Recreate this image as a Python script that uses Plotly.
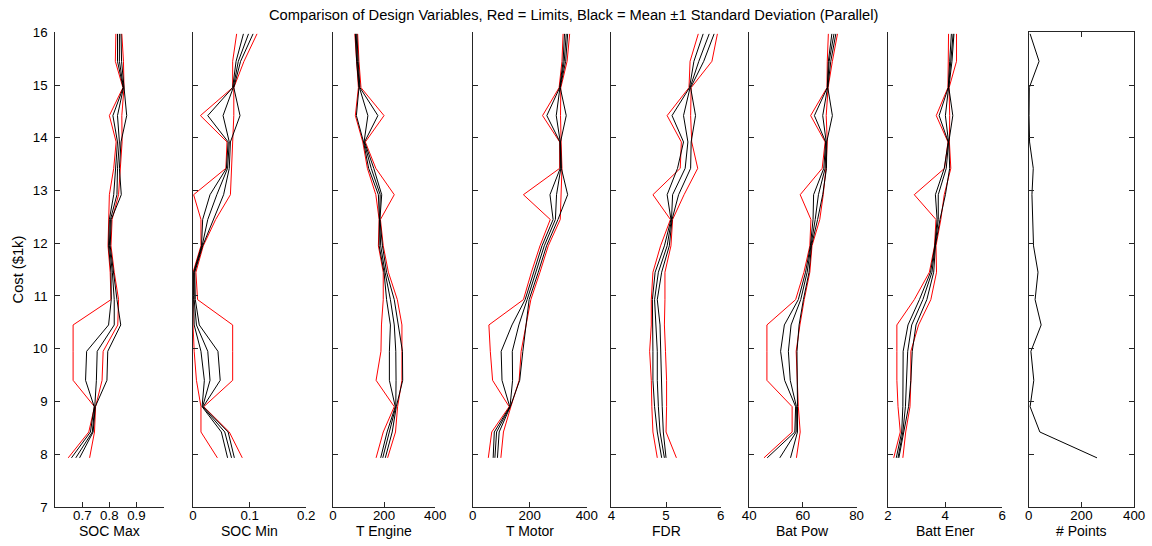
import plotly.graph_objects as go

W, H = 1152, 546

# ---------------- data ----------------
cost = [7.93, 8.42, 8.90, 9.40, 9.95, 10.45, 10.93, 11.45, 11.95, 12.45,
        12.92, 13.42, 13.92, 14.42, 14.95, 15.45, 15.97]

soc_max_lim_lo = [0.648, 0.724, 0.745, 0.666, 0.666, 0.666, 0.806, 0.803, 0.795, 0.797, 0.800, 0.816, 0.825, 0.800, 0.850, 0.822, 0.824]
soc_max_sd_lo  = [0.660, 0.730, 0.744, 0.712, 0.716, 0.797, 0.807, 0.806, 0.797, 0.800, 0.816, 0.822, 0.830, 0.813, 0.851, 0.830, 0.830]
soc_max_mean   = [0.676, 0.737, 0.746, 0.752, 0.755, 0.818, 0.818, 0.811, 0.800, 0.804, 0.828, 0.830, 0.837, 0.830, 0.852, 0.837, 0.837]
soc_max_sd_hi  = [0.690, 0.740, 0.748, 0.791, 0.794, 0.842, 0.828, 0.816, 0.803, 0.807, 0.844, 0.837, 0.843, 0.864, 0.853, 0.845, 0.843]
soc_max_lim_hi = [0.727, 0.745, 0.749, 0.773, 0.777, 0.831, 0.834, 0.818, 0.806, 0.810, 0.834, 0.840, 0.847, 0.846, 0.854, 0.852, 0.846]

soc_min_lim_lo = [0.043, 0.014, 0.014, 0.006, 0.002, 0.000, 0.000, 0.000, 0.014, 0.014, 0.001, 0.058, 0.060, 0.013, 0.070, 0.070, 0.077]
soc_min_sd_lo  = [0.061, 0.050, 0.016, 0.020, 0.014, 0.002, 0.001, 0.001, 0.015, 0.017, 0.030, 0.059, 0.062, 0.026, 0.070, 0.076, 0.089]
soc_min_mean   = [0.068, 0.056, 0.017, 0.030, 0.026, 0.006, 0.002, 0.002, 0.016, 0.026, 0.042, 0.061, 0.064, 0.053, 0.071, 0.080, 0.098]
soc_min_sd_hi  = [0.073, 0.062, 0.018, 0.048, 0.044, 0.011, 0.004, 0.003, 0.017, 0.036, 0.054, 0.064, 0.066, 0.083, 0.072, 0.084, 0.106]
soc_min_lim_hi = [0.087, 0.064, 0.019, 0.070, 0.070, 0.070, 0.008, 0.005, 0.018, 0.040, 0.066, 0.068, 0.069, 0.072, 0.072, 0.090, 0.113]

t_eng_lim_lo = [169, 197, 240, 169, 188, 190, 197, 197, 178, 181, 168, 135, 117, 88, 100, 92, 86]
t_eng_sd_lo  = [187, 212, 244, 221, 221, 225, 210, 200, 181, 182, 178, 140, 120, 92, 102, 93, 88]
t_eng_mean   = [195, 222, 246, 247, 246, 240, 225, 204, 187, 183, 185, 150, 122, 137, 104, 96, 91]
t_eng_sd_hi  = [205, 232, 248, 273, 272, 255, 240, 210, 194, 184, 191, 160, 124, 176, 106, 99, 94]
t_eng_lim_hi = [214, 245, 253, 270, 270, 270, 252, 217, 197, 186, 240, 168, 127, 200, 110, 102, 97]

t_mot_lim_lo = [55, 67, 128, 70, 62, 57, 178, 206, 236, 272, 178, 305, 305, 245, 303, 313, 317]
t_mot_sd_lo  = [72, 76, 130, 103, 100, 138, 184, 214, 243, 282, 271, 307, 306, 260, 305, 317, 322]
t_mot_mean   = [78, 84, 131, 140, 139, 162, 191, 222, 251, 290, 294, 309, 307, 293, 306, 321, 328]
t_mot_sd_hi  = [87, 93, 132, 165, 176, 188, 198, 230, 259, 299, 333, 311, 308, 328, 307, 326, 333]
t_mot_lim_hi = [99, 108, 134, 163, 170, 187, 204, 236, 265, 307, 310, 313, 310, 308, 309, 331, 340]

fdr_lim_lo = [4.84, 4.76, 4.74, 4.73, 4.70, 4.73, 4.73, 4.76, 4.90, 5.08, 4.76, 5.26, 5.28, 5.02, 5.42, 5.44, 5.59]
fdr_sd_lo  = [4.92, 4.84, 4.79, 4.76, 4.76, 4.76, 4.75, 4.80, 4.97, 5.09, 5.02, 5.21, 5.32, 5.11, 5.43, 5.51, 5.68]
fdr_mean   = [4.97, 4.89, 4.86, 4.84, 4.84, 4.82, 4.79, 4.86, 5.02, 5.10, 5.12, 5.35, 5.40, 5.32, 5.44, 5.60, 5.79]
fdr_sd_hi  = [5.00, 4.95, 4.93, 4.92, 4.91, 4.89, 4.84, 4.92, 5.06, 5.11, 5.23, 5.45, 5.46, 5.54, 5.45, 5.69, 5.88]
fdr_lim_hi = [5.19, 5.00, 5.01, 5.01, 4.99, 4.97, 4.98, 4.98, 5.09, 5.12, 5.33, 5.58, 5.47, 5.45, 5.46, 5.84, 5.94]

bat_pow_lim_lo = [45.5, 56.0, 56.0, 46.6, 46.6, 46.6, 57.3, 60.4, 62.6, 63.0, 59.0, 67.2, 68.3, 62.9, 69.0, 69.1, 69.5]
bat_pow_sd_lo  = [46.7, 57.0, 57.3, 53.2, 51.7, 53.1, 58.3, 61.0, 62.8, 63.8, 64.0, 67.8, 68.5, 64.3, 69.1, 69.5, 70.8]
bat_pow_mean   = [51.4, 57.5, 57.6, 55.3, 54.6, 55.6, 59.2, 61.6, 63.0, 64.6, 65.8, 68.3, 68.7, 67.4, 69.2, 69.8, 71.6]
bat_pow_sd_hi  = [55.4, 58.0, 58.0, 57.9, 57.8, 58.6, 60.2, 62.3, 63.2, 65.5, 67.4, 68.8, 68.9, 71.0, 69.3, 70.4, 72.3]
bat_pow_lim_hi = [57.6, 59.0, 58.3, 57.8, 57.5, 58.9, 60.5, 62.6, 63.4, 66.3, 67.6, 68.6, 69.1, 68.7, 69.4, 71.0, 72.9]

batt_ener_lim_lo = [2.20, 2.43, 2.35, 2.31, 2.31, 2.31, 2.92, 3.45, 3.63, 3.68, 2.92, 3.98, 4.10, 3.69, 4.10, 4.10, 4.12]
batt_ener_sd_lo  = [2.29, 2.48, 2.52, 2.53, 2.53, 2.70, 3.10, 3.49, 3.64, 3.72, 3.66, 3.97, 4.11, 3.79, 4.11, 4.16, 4.22]
batt_ener_mean   = [2.35, 2.52, 2.61, 2.66, 2.69, 2.83, 3.22, 3.54, 3.65, 3.76, 3.76, 4.04, 4.12, 4.01, 4.12, 4.19, 4.28]
batt_ener_sd_hi  = [2.38, 2.56, 2.72, 2.80, 2.85, 2.98, 3.36, 3.60, 3.66, 3.82, 4.01, 4.16, 4.13, 4.27, 4.13, 4.24, 4.31]
batt_ener_lim_hi = [2.52, 2.62, 2.77, 2.80, 2.80, 3.07, 3.50, 3.70, 3.68, 3.85, 3.97, 4.20, 4.15, 4.16, 4.14, 4.40, 4.40]

n_points = [259, 42, 5, 19, 8, 47, 24, 35, 18, 14, 12, 17, 3, 1, 2, 39, 5]

var_names = ["SOC Max", "SOC Min", "T Engine", "T Motor", "FDR", "Bat Pow", "Batt Ener"]
x_ranges = [[0.6, 1.0], [0, 0.2], [0, 400], [0, 400], [4, 6], [40, 80], [2, 6], [0, 400]]
x_tickvals = [[0.7, 0.8, 0.9], [0, 0.1, 0.2], [0, 200, 400], [0, 200, 400],
              [4, 5, 6], [40, 60, 80], [2, 4, 6], [0, 200, 400]]
x_ticktext = [["0.7", "0.8", "0.9"], ["0", "0.1", "0.2"], ["0", "200", "400"], ["0", "200", "400"],
              ["4", "5", "6"], ["40", "60", "80"], ["2", "4", "6"], ["0", "200", "400"]]
y_ticks = [7, 8, 9, 10, 11, 12, 13, 14, 15, 16]

limits_lo = [soc_max_lim_lo, soc_min_lim_lo, t_eng_lim_lo, t_mot_lim_lo, fdr_lim_lo, bat_pow_lim_lo, batt_ener_lim_lo]
limits_hi = [soc_max_lim_hi, soc_min_lim_hi, t_eng_lim_hi, t_mot_lim_hi, fdr_lim_hi, bat_pow_lim_hi, batt_ener_lim_hi]
sd_lo = [soc_max_sd_lo, soc_min_sd_lo, t_eng_sd_lo, t_mot_sd_lo, fdr_sd_lo, bat_pow_sd_lo, batt_ener_sd_lo]
means = [soc_max_mean, soc_min_mean, t_eng_mean, t_mot_mean, fdr_mean, bat_pow_mean, batt_ener_mean]
sd_hi = [soc_max_sd_hi, soc_min_sd_hi, t_eng_sd_hi, t_mot_sd_hi, fdr_sd_hi, bat_pow_sd_hi, batt_ener_sd_hi]

# ---------------- layout geometry (pixels) ----------------
panel_px = [(49, 159), (189, 304), (331, 435), (473, 589),
            (614, 725), (754, 863), (895, 1011), (1038, 1145)]
y_top_px, y_bot_px = 26, 514

FONT = "Liberation Sans, Arial, Helvetica, sans-serif"
AX_COLOR = "#262626"
RED = "#ff0000"
BLACK = "#000000"
TICK_SIZE = 13.3
LABEL_SIZE = 14

fig = go.Figure()

for i in range(8):
    xa = "x" if i == 0 else f"x{i+1}"
    ya = "y" if i == 0 else f"y{i+1}"
    if i < 7:
        for arr in (limits_lo[i], limits_hi[i]):
            fig.add_trace(go.Scatter(x=arr, y=cost, mode="lines", xaxis=xa, yaxis=ya,
                                     line=dict(color=RED, width=1), showlegend=False,
                                     hoverinfo="skip"))
        for arr in (sd_lo[i], means[i], sd_hi[i]):
            fig.add_trace(go.Scatter(x=arr, y=cost, mode="lines", xaxis=xa, yaxis=ya,
                                     line=dict(color=BLACK, width=1), showlegend=False,
                                     hoverinfo="skip"))
    else:
        fig.add_trace(go.Scatter(x=n_points, y=cost, mode="lines", xaxis=xa, yaxis=ya,
                                 line=dict(color=BLACK, width=1), showlegend=False,
                                 hoverinfo="skip"))

layout = dict(
    width=W, height=H,
    margin=dict(l=0, r=0, t=0, b=0),
    paper_bgcolor="white", plot_bgcolor="white",
    font=dict(family=FONT, size=TICK_SIZE, color="#000000"),
    showlegend=False,
    hovermode=False,
)

y_dom = [1 - y_bot_px / H, 1 - y_top_px / H]
for i in range(8):
    xk = "xaxis" if i == 0 else f"xaxis{i+1}"
    yk = "yaxis" if i == 0 else f"yaxis{i+1}"
    yname = "y" if i == 0 else f"y{i+1}"
    xname = "x" if i == 0 else f"x{i+1}"
    l, r = panel_px[i]
    mirror = "ticks" if i == 7 else False
    layout[xk] = dict(
        domain=[l / W, r / W], range=x_ranges[i], anchor=yname,
        tickmode="array", tickvals=x_tickvals[i], ticktext=x_ticktext[i],
        ticks="inside", ticklen=5, tickwidth=1, tickcolor=AX_COLOR,
        showline=True, linecolor=AX_COLOR, linewidth=1, mirror=mirror,
        showgrid=False, zeroline=False, fixedrange=True,
        ticklabelstandoff=-4,
        tickfont=dict(family=FONT, size=TICK_SIZE, color="#000000"),
    )
    layout[yk] = dict(
        domain=y_dom, range=[7, 16], anchor=xname,
        tickmode="array", tickvals=y_ticks,
        ticks="inside", ticklen=5, tickwidth=1, tickcolor=AX_COLOR,
        showline=True, linecolor=AX_COLOR, linewidth=1, mirror=mirror,
        showgrid=False, zeroline=False, fixedrange=True,
        showticklabels=(i == 0), ticklabelstandoff=4,
        tickfont=dict(family=FONT, size=TICK_SIZE, color="#000000"),
    )

annotations = []
x_titles = var_names + ["# Points"]
for i, name in enumerate(x_titles):
    l, r = panel_px[i]
    annotations.append(dict(text=name, x=(l + r) / 2 / W, y=1 - 539 / H, xref="paper", yref="paper",
                            xanchor="center", yanchor="middle", showarrow=False,
                            font=dict(family=FONT, size=LABEL_SIZE, color="#000000")))
annotations.append(dict(text="Cost ($1k)", x=11 / W, y=1 - 270 / H, xref="paper", yref="paper",
                        xanchor="center", yanchor="middle", showarrow=False, textangle=-90,
                        font=dict(family=FONT, size=14.7, color="#000000")))
annotations.append(dict(text="Comparison of Design Variables, Red = Limits, Black = Mean \u00b11 Standard Deviation (Parallel)",
                        x=575 / W, y=1 - 8 / H, xref="paper", yref="paper",
                        xanchor="center", yanchor="middle", showarrow=False,
                        font=dict(family=FONT, size=14.7, color="#000000")))
layout["annotations"] = annotations

fig.update_layout(**layout)
fig.write_html("out.html",
               config={"displayModeBar": False, "staticPlot": True},
               post_script="document.body.style.margin='0px';document.body.style.padding='0px';")
